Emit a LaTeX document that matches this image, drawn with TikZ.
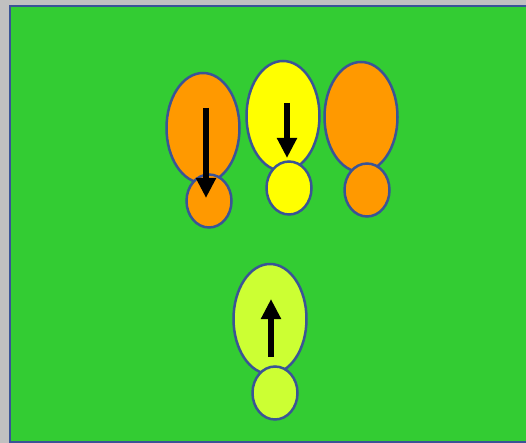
\documentclass[tikz,border=0pt]{standalone}
\usepackage{tikz}
\usetikzlibrary{shapes.geometric, arrows.meta, positioning}
\definecolor{cField}{RGB}{51,204,51}
\definecolor{cEdge}{RGB}{58,84,150}
\definecolor{cBack}{RGB}{192,192,192}
\definecolor{cOrange}{RGB}{255,153,0}
\definecolor{cYellow}{RGB}{255,255,0}
\definecolor{cLime}{RGB}{204,255,51}
\tikzset{
	head/.style ={ellipse, draw=cEdge, line width=2.5pt, inner sep=0pt, minimum width=73pt, minimum height=110pt},
	foot/.style ={ellipse, draw=cEdge, line width=2.5pt, inner sep=0pt, minimum width=45pt, minimum height=53pt},
	move/.style ={-{Triangle[length=20pt, width=19pt]}, line width=5.5pt, black},
}
\begin{document}
\begin{tikzpicture}[x=1pt, y=-1pt]
	\fill[cBack] (0,0) rectangle (526,443);
	\useasboundingbox (0,0) rectangle (526,443);
	\draw[cEdge, fill=cField, line width=2.5pt] (10,6) rectangle (530,442);
	% upper row
	\node[head, fill=cOrange] (h1) at (203,128) {};
	\node[foot, fill=cOrange] (f1) at (209,201) {};
	\node[head, fill=cYellow] (h2) at (283,116) {};
	\node[foot, fill=cYellow] (f2) at (289,188) {};
	\node[head, fill=cOrange] (h3) at (361,117) {};
	\node[foot, fill=cOrange] (f3) at (367,190) {};
	% lower one
	\node[head, fill=cLime] (h4) at (270,319) {};
	\node[foot, fill=cLime] (f4) at (275,393) {};
	% arrows
	\coordinate (a1s) at (206,108);
	\coordinate (a1e) at (206,198);
	\coordinate (a2s) at (287,103);
	\coordinate (a2e) at (287,158);
	\coordinate (a4s) at (271,357);
	\coordinate (a4e) at (271,299);
	\draw[move] (a1s) -- (a1e);
	\draw[move] (a2s) -- (a2e);
	\draw[move] (a4s) -- (a4e);
\end{tikzpicture}
\end{document}
